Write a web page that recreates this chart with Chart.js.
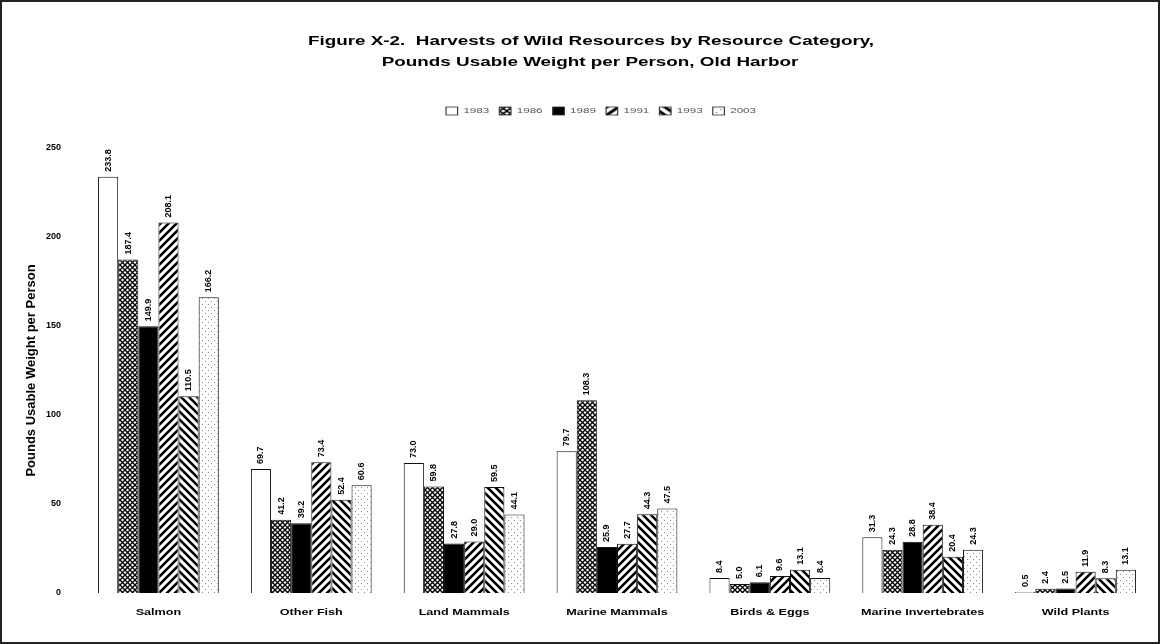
<!DOCTYPE html>
<html>
<head>
<meta charset="utf-8">
<script src="https://cdn.jsdelivr.net/npm/chart.js@4/dist/chart.umd.min.js"></script>
<style>
  body { margin: 0; background: #fff; }
  #frame { position: relative; width: 1160px; height: 644px; box-sizing: border-box; border: 2px solid #222; overflow: hidden; }
  #wrap { position: absolute; left: -2px; top: -2px; width: 1160px; height: 644px; }
</style>
</head>
<body>
<div id="frame"><div id="wrap"><canvas id="chart" width="1160" height="644"></canvas></div></div>
<script>
var categories = ['Salmon', 'Other Fish', 'Land Mammals', 'Marine Mammals', 'Birds & Eggs', 'Marine Invertebrates', 'Wild Plants'];
var years = ['1983', '1986', '1989', '1991', '1993', '2003'];

var values1983 = [233.8, 69.7, 73.0, 79.7, 8.4, 31.3, 0.5];
var values1986 = [187.4, 41.2, 59.8, 108.3, 5.0, 24.3, 2.4];
var values1989 = [149.9, 39.2, 27.8, 25.9, 6.1, 28.8, 2.5];
var values1991 = [208.1, 73.4, 29.0, 27.7, 9.6, 38.4, 11.9];
var values1993 = [110.5, 52.4, 59.5, 44.3, 13.1, 20.4, 8.3];
var values2003 = [166.2, 60.6, 44.1, 47.5, 8.4, 24.3, 13.1];

var yTicks = [0, 50, 100, 150, 200, 250];

var titleLines = ['Figure X-2.  Harvests of Wild Resources by Resource Category,', 'Pounds Usable Weight per Person, Old Harbor'];
var FONT = '"Liberation Sans", Arial, sans-serif';

// Build fill patterns like the old print hatching
function makePattern(type) {
  var c = document.createElement('canvas');
  var size = 8;
  if (type === 'cross') size = 5;
  if (type === 'dots') size = 6;
  c.width = size;
  c.height = size;
  var p = c.getContext('2d');
  p.fillStyle = '#fff';
  p.fillRect(0, 0, size, size);
  p.strokeStyle = '#000';
  p.fillStyle = '#000';
  if (type === 'cross') {
    p.lineWidth = 1.3;
    p.beginPath();
    p.moveTo(0, 0); p.lineTo(size, size);
    p.moveTo(size, 0); p.lineTo(0, size);
    p.stroke();
  } else if (type === 'fwd') {
    p.lineWidth = 2.6;
    p.beginPath();
    p.moveTo(-1, size + 1); p.lineTo(size + 1, -1);
    p.moveTo(-1, 1); p.lineTo(1, -1);
    p.moveTo(size - 1, size + 1); p.lineTo(size + 1, size - 1);
    p.stroke();
  } else if (type === 'back') {
    p.lineWidth = 2.6;
    p.beginPath();
    p.moveTo(-1, -1); p.lineTo(size + 1, size + 1);
    p.moveTo(size - 1, -1); p.lineTo(size + 1, 1);
    p.moveTo(-1, size - 1); p.lineTo(1, size + 1);
    p.stroke();
  } else if (type === 'dots') {
    p.fillStyle = '#888';
    p.fillRect(1, 1, 1, 1);
    p.fillRect(4, 4, 1, 1);
  }
  return document.getElementById('chart').getContext('2d').createPattern(c, 'repeat');
}

var fills = ['#fff', makePattern('cross'), '#000', makePattern('fwd'), makePattern('back'), makePattern('dots')];
var seriesValues = [values1983, values1986, values1989, values1991, values1993, values2003];

var datasets = [];
for (var i = 0; i < years.length; i++) {
  datasets.push({
    label: years[i],
    data: seriesValues[i],
    backgroundColor: fills[i],
    borderColor: '#111',
    borderWidth: 1,
    borderSkipped: 'bottom',
    barPercentage: 1.0,
    categoryPercentage: 0.79
  });
}

// text squeezed wide, like the scanned original
function wideText(ctx, text, x, y, sx) {
  ctx.save();
  ctx.translate(x, y);
  ctx.scale(sx, 1);
  ctx.fillText(text, 0, 0);
  ctx.restore();
}

// Title, legend and category names
var decorations = {
  id: 'decorations',
  afterDraw: function (chart) {
    var ctx = chart.ctx;
    ctx.save();
    ctx.fillStyle = '#000';
    ctx.textAlign = 'center';
    ctx.textBaseline = 'middle';
    ctx.font = 'bold 13px ' + FONT;
    wideText(ctx, titleLines[0], 591, 41, 1.45);
    wideText(ctx, titleLines[1], 590, 62, 1.45);

    // legend
    ctx.font = '8px ' + FONT;
    var box = 8, gap = 4, space = 7;
    var total = 0;
    var widths = years.map(function (y) { return ctx.measureText(y).width; });
    widths.forEach(function (w) { total += box + gap + w; });
    total += space * (years.length - 1);
    ctx.save();
    ctx.translate(601, 111);
    ctx.scale(1.45, 1);
    var x = -total / 2;
    ctx.textAlign = 'left';
    for (var k = 0; k < years.length; k++) {
      ctx.fillStyle = fills[k];
      ctx.fillRect(x, -box / 2, box, box);
      ctx.strokeStyle = '#333';
      ctx.lineWidth = 0.8;
      ctx.strokeRect(x, -box / 2, box, box);
      ctx.fillStyle = '#555';
      ctx.fillText(years[k], x + box + gap, 0);
      x += box + gap + widths[k] + space;
    }
    ctx.restore();

    // category names
    var xs = chart.scales.x;
    ctx.fillStyle = '#000';
    ctx.textAlign = 'center';
    ctx.font = 'bold 9px ' + FONT;
    categories.forEach(function (c, j) {
      wideText(ctx, c, xs.getPixelForValue(j), 613, 1.4);
    });
    ctx.restore();
  }
};

// Vertical value labels above each bar
var barLabels = {
  id: 'barLabels',
  afterDatasetsDraw: function (chart) {
    var ctx = chart.ctx;
    ctx.save();
    ctx.font = 'bold 9px ' + FONT;
    ctx.fillStyle = '#000';
    ctx.textAlign = 'left';
    ctx.textBaseline = 'middle';
    chart.data.datasets.forEach(function (ds, di) {
      var meta = chart.getDatasetMeta(di);
      meta.data.forEach(function (bar, j) {
        ctx.save();
        ctx.translate(bar.x, bar.y - 5);
        ctx.rotate(-Math.PI / 2);
        ctx.fillText(ds.data[j].toFixed(1), 0, 0);
        ctx.restore();
      });
    });
    ctx.restore();
  }
};

new Chart(document.getElementById('chart'), {
  type: 'bar',
  data: { labels: categories, datasets: datasets },
  plugins: [barLabels, decorations],
  options: {
    responsive: false,
    animation: false,
    devicePixelRatio: 1,
    layout: { padding: { left: 10, right: 8, bottom: 21, top: 148 } },
    plugins: {
      title: { display: false },
      legend: { display: false },
      tooltip: { enabled: false }
    },
    scales: {
      x: {
        grid: { display: false },
        border: { display: false },
        ticks: { display: false },
        afterFit: function (scale) { scale.height = 30; }
      },
      y: {
        min: 0,
        max: 250,
        grid: { display: false },
        border: { display: false },
        afterBuildTicks: function (scale) {
          scale.ticks = yTicks.map(function (v) { return { value: v }; });
        },
        ticks: {
          color: '#000',
          padding: 13,
          font: { family: FONT, size: 9, weight: 'bold' }
        },
        title: {
          display: true,
          text: 'Pounds Usable Weight per Person',
          color: '#000',
          padding: { top: 14, bottom: 0 },
          font: { family: FONT, size: 13, weight: 'bold' }
        },
        afterFit: function (scale) { scale.width = 72; }
      }
    }
  }
});
</script>
</body>
</html>
